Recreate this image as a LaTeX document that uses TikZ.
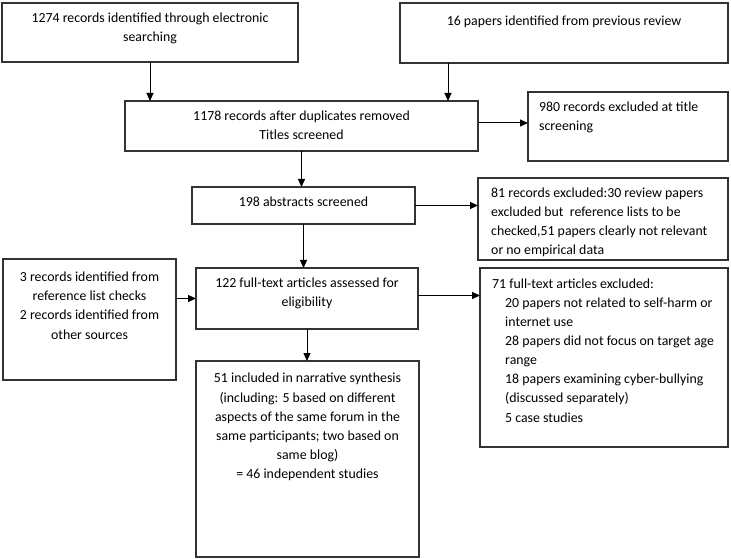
\documentclass[tikz,border=0pt]{standalone}
\usepackage{fontspec}
\setmainfont{Carlito}
\usetikzlibrary{arrows.meta}
\begin{document}
\begin{tikzpicture}[x=1bp,y=-1bp,
  box/.style={draw=black!80,line width=1.2bp,inner sep=0pt,outer sep=0pt,fill=none},
  txt/.style={inner sep=0pt,font=\fontsize{13.9}{19.2}\selectfont,execute at begin node=\strut},
  ctxt/.style={txt,align=center,anchor=north},
  ltxt/.style={txt,align=left,anchor=north west},
  arr/.style={line width=1bp,-{Triangle[length=8bp,width=7bp]}}]
\fill[white] (0,0) rectangle (731,559);
\useasboundingbox (0,0) rectangle (731,559);
% boxes
\node[box,minimum width=296bp,minimum height=59bp] (a) at (150,32.5) {};
\node[box,minimum width=328bp,minimum height=60bp] (b) at (564,33) {};
\node[box,minimum width=353bp,minimum height=50bp] (c) at (301.5,126) {};
\node[box,minimum width=200bp,minimum height=69bp] (d) at (628,126.5) {};
\node[box,minimum width=223bp,minimum height=37bp] (e) at (303.5,205.5) {};
\node[box,minimum width=250bp,minimum height=82bp] (f) at (603,219) {};
\node[box,minimum width=173bp,minimum height=121bp] (g) at (89.5,319.5) {};
\node[box,minimum width=222bp,minimum height=61bp] (h) at (307,298.5) {};
\node[box,minimum width=248bp,minimum height=179bp] (i) at (604,357.5) {};
\node[box,minimum width=223bp,minimum height=196bp] (j) at (307.5,459) {};
% texts
\node[ctxt] (ta) at ([yshift=-9.4bp]a.north) {1274 records identified through electronic\\searching};
\node[ctxt] (tb) at ([yshift=-8.6bp]b.north) {16 papers identified from previous review};
\node[ctxt] (tc) at ([yshift=-9.4bp]c.north) {1178 records after duplicates removed\\Titles screened};
\node[ltxt] (td) at ([xshift=11bp,yshift=-9.4bp]d.north west) {980 records excluded at title\\screening};
\node[ctxt] (te) at ([yshift=-6.4bp]e.north) {198 abstracts screened};
\node[ltxt] (tf) at ([xshift=13bp,yshift=-9.8bp]f.north west) {81 records excluded:30 review papers\\excluded but\ \ reference lists to be\\checked,51 papers clearly not relevant\\or no empirical data};
\node[ctxt] (tg) at ([yshift=-12.8bp]g.north) {3 records identified from\\reference list checks\\2 records identified from\\other sources};
\node[ctxt] (th) at ([yshift=-9.3bp]h.north) {122 full-text articles assessed for\\eligibility};
\node[ltxt] (ti) at ([xshift=12bp,yshift=-10.4bp]i.north west) {71 full-text articles excluded:\\\hspace*{13bp}20 papers not related to self-harm or\\\hspace*{13bp}internet use\\\hspace*{13bp}28 papers did not focus on target age\\\hspace*{13bp}range\\\hspace*{13bp}18 papers examining cyber-bullying\\\hspace*{13bp}(discussed separately)\\\hspace*{13bp}5 case studies};
\node[ctxt] (tj) at ([yshift=-12.1bp]j.north) {51 included in narrative synthesis\\(including: 5 based on different\\aspects of the same forum in the\\same participants; two based on\\same blog)\\= 46 independent studies};
% connectors
\coordinate (bout) at ([xshift=48bp]b.south west);
\coordinate (cout) at ([yshift=3bp]c.east);
\draw[arr] (a.south) -- (a.south |- c.north);
\draw[arr] (bout) -- (bout |- c.north);
\draw[arr] (cout) -- (cout -| d.west);
\draw[arr] (c.south) -- (c.south |- e.north);
\draw[arr] (e.east) -- (e.east -| f.west);
\draw[arr] (e.south) -- (e.south |- h.north);
\draw[arr] (g.east |- h.west) -- (h.west);
\draw[arr] ([yshift=3bp]h.east) -- ([yshift=3bp]h.east -| i.west);
\draw[arr] (h.south) -- (h.south |- j.north);
\end{tikzpicture}
\end{document}
